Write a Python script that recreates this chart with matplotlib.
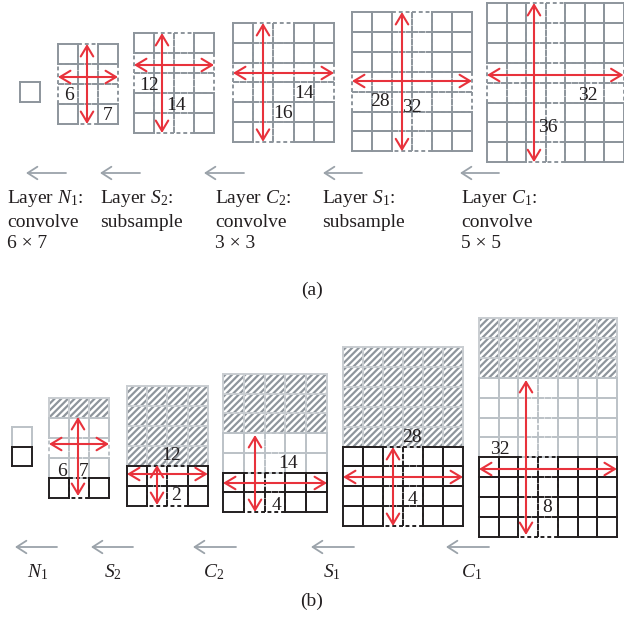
import matplotlib.pyplot as plt

plt.rcParams['font.family'] = 'Liberation Serif'
plt.rcParams['mathtext.fontset'] = 'custom'
plt.rcParams['mathtext.rm'] = 'Liberation Serif'
plt.rcParams['mathtext.it'] = 'Liberation Serif:italic'
plt.rcParams['hatch.linewidth'] = 1.6

# grid sizes (cols, rows) of each layer, panel (a)
a_cols = [1, 3, 4, 5, 6, 7]
a_rows = [1, 4, 5, 6, 7, 8]
a_dash_cols = [[], [1], [1, 2], [1, 2], [2, 3], [2, 3]]
a_dash_rows = [[], [1, 2], [1, 2], [2, 3], [3, 4], [3, 4]]
a_labels = [None, ('6', '7'), ('12', '14'), ('14', '16'), ('28', '32'), ('32', '36')]

# panel (b): row zones h = hatched, l = light, b = black
b_cols = [1, 3, 4, 5, 6, 7]
b_zones = ['lb', 'hlllb', 'hhhhbb', 'hhhllbb', 'hhhhhbbbb', 'hhhllllbbbb']
b_dash_cols = [[], [1], [1, 2], [1, 2], [2, 3], [2, 3]]
b_dash_rows = [[], [2], [], [], [], []]
b_labels = [None, ('6', '7'), ('12', '2'), ('14', '4'), ('28', '4'), ('32', '8')]

layer_names = ['Layer $N_1$:\nconvolve\n6 × 7', 'Layer $S_2$:\nsubsample',
               'Layer $C_2$:\nconvolve\n3 × 3', 'Layer $S_1$:\nsubsample',
               'Layer $C_1$:\nconvolve\n5 × 5']
short_names = ['$N_1$', '$S_2$', '$C_2$', '$S_1$', '$C_1$']

# layout (pixels)
a_origin = [(20, 82), (58, 44), (134, 33), (233, 23), (352, 12), (487, 3)]
a_cell = [(20, 20), (20, 20), (20, 20), (20.2, 19.8), (20, 19.9), (19.5, 19.9)]
a_harrow_y = [None, 77, 65, 73, 81, 75]
a_varrow_x = [None, 87, 162, 263, 402, 534]
a_label_pos = [None, ((69, 95), (108, 115)), ((149, 85), (176, 105)),
               ((304, 93), (283, 113)), ((380, 101), (412, 108)),
               ((588, 95), (548, 128))]

b_origin = [(12, 427), (49, 398), (127, 386), (223, 374), (343, 347), (479, 318)]
b_cell = [(20, 19.5), (20, 20), (20.2, 20), (20.8, 19.7), (20, 19.9), (19.7, 19.9)]
b_harrow_y = [None, 444, 474, 483, 477, 469]
b_varrow = [None, (78, 417, 496), (157, 465, 505), (255, 435, 512),
            (393, 447, 526), (526, 380, 535)]
b_label_pos = [None, ((62, 471), (84, 471)), ((171, 455), (176, 496)),
               ((288, 463), (276, 505)), ((412, 437), (412, 499)),
               ((500, 450), (547, 507))]

a_gray_arrows = [(26, 66), (100, 140), (204, 244), (323, 362), (460, 499)]
a_text_x = [7, 100, 215, 322, 461]
b_gray_arrows = [(15, 57), (91, 133), (193, 236), (311, 354), (446, 489)]
b_text_x = [38, 113, 214, 332, 472]

GRAY = '#8d959c'
LIGHT = '#bcc2c7'
BLACK = '#231f20'
RED = '#e8323c'
ARROW_GRAY = '#9ba3aa'
DASH = (0, (2, 1.5))

fig = plt.figure(figsize=(6.24, 6.17), dpi=100)
ax = fig.add_axes([0, 0, 1, 1])
ax.set_xlim(0, 624)
ax.set_ylim(617, 0)
ax.axis('off')


def cell_box(ax, x, y, w, h, color, dashed):
    xs = [x, x + w, x + w, x, x]
    ys = [y, y, y + h, y + h, y]
    for i in range(4):
        ax.plot(xs[i:i + 2], ys[i:i + 2], color=color, lw=1.4,
                linestyle=DASH if dashed else '-', solid_capstyle='projecting')


def red_arrow(ax, p0, p1):
    ax.annotate('', xy=p1, xytext=p0,
                arrowprops=dict(arrowstyle='<->,head_length=0.75,head_width=0.45',
                                color=RED, lw=1.5, shrinkA=0, shrinkB=0))


def gray_arrow(ax, x0, x1, y):
    ax.annotate('', xy=(x0, y), xytext=(x1, y),
                arrowprops=dict(arrowstyle='->,head_length=0.7,head_width=0.45',
                                color=ARROW_GRAY, lw=1.3, shrinkA=0, shrinkB=0))


# ---- panel (a)
for g in range(6):
    x0, y0 = a_origin[g]
    cw, ch = a_cell[g]
    cells = [(r, c) for r in range(a_rows[g]) for c in range(a_cols[g])]
    for dashed_pass in (True, False):
        for r, c in cells:
            dashed = c in a_dash_cols[g] or r in a_dash_rows[g]
            if dashed == dashed_pass:
                cell_box(ax, x0 + c * cw, y0 + r * ch, cw, ch, GRAY, dashed)
    if a_labels[g]:
        w, h = a_cols[g] * cw, a_rows[g] * ch
        red_arrow(ax, (x0, a_harrow_y[g]), (x0 + w, a_harrow_y[g]))
        red_arrow(ax, (a_varrow_x[g], y0), (a_varrow_x[g], y0 + h))
        for s, (tx, ty) in zip(a_labels[g], a_label_pos[g]):
            ax.text(tx, ty, s, ha='center', va='center', fontsize=14, color=BLACK)

for (xa, xb), tx, name in zip(a_gray_arrows, a_text_x, layer_names):
    gray_arrow(ax, xa, xb, 173)
    ax.text(tx, 188, name, ha='left', va='top', fontsize=14, color=BLACK,
            linespacing=1.35)
ax.text(312, 290, '(a)', ha='center', va='center', fontsize=14, color=BLACK)

# ---- panel (b)
zone_color = {'h': '#c9cdd1', 'l': LIGHT, 'b': BLACK}
for g in range(6):
    x0, y0 = b_origin[g]
    cw, ch = b_cell[g]
    zones = b_zones[g]
    ncol = b_cols[g]
    hrows = [r for r, z in enumerate(zones) if z == 'h']
    if hrows:
        ax.add_patch(plt.Rectangle((x0, y0 + hrows[0] * ch), ncol * cw, len(hrows) * ch,
                                   facecolor='white', edgecolor='#8e959c', lw=0,
                                   hatch='/////', zorder=1))
    for zone in 'hlb':
        for dashed_pass in (True, False):
            for r, z in enumerate(zones):
                if z != zone:
                    continue
                for c in range(ncol):
                    dashed = (c in b_dash_cols[g] or r in b_dash_rows[g]) and z != 'h'
                    if dashed == dashed_pass:
                        cell_box(ax, x0 + c * cw, y0 + r * ch, cw, ch,
                                 zone_color[z], dashed)
    if b_labels[g]:
        w = ncol * cw
        red_arrow(ax, (x0, b_harrow_y[g]), (x0 + w, b_harrow_y[g]))
        vx, vy0, vy1 = b_varrow[g]
        red_arrow(ax, (vx, vy0), (vx, vy1))
        for s, (tx, ty) in zip(b_labels[g], b_label_pos[g]):
            ax.text(tx, ty, s, ha='center', va='center', fontsize=14, color=BLACK,
                    zorder=5)

for (xa, xb), tx, name in zip(b_gray_arrows, b_text_x, short_names):
    gray_arrow(ax, xa, xb, 547)
    ax.text(tx, 572, name, ha='center', va='center', fontsize=14, color=BLACK)
ax.text(312, 601, '(b)', ha='center', va='center', fontsize=14, color=BLACK)

fig.savefig('out.png', dpi=100)
